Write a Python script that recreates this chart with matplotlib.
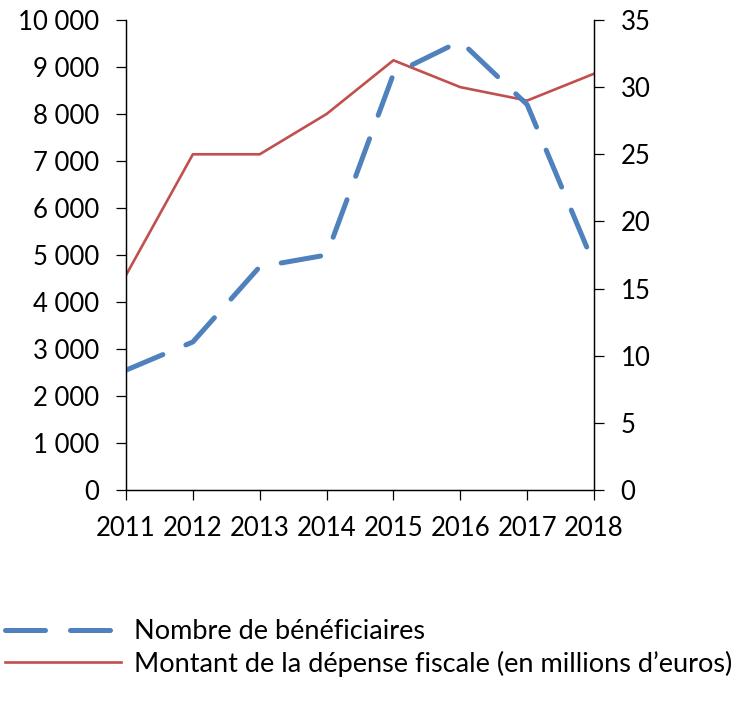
import numpy as np
import matplotlib as mpl
from matplotlib import pyplot as plt
from matplotlib.ticker import FuncFormatter

plt.rcParams['font.family'] = ['Lato', 'DejaVu Sans']
plt.rcParams.update({'font.size': 18.5})

# données
annees = ['2011', '2012', '2013', '2014', '2015', '2016', '2017', '2018']
beneficiaires = [2550, 3150, 4750, 5000, 8850, 9550, 8200, 4800]
depense = [16, 25, 25, 28, 32, 30, 29, 31]

bleu = '#4F81BD'
rouge = '#C0504D'

fig = plt.figure(figsize=(7.51, 7.01), dpi=100)
ax = fig.add_axes([126/751, 1-490/701, (594-126)/751, (490-20)/701])
ax2 = ax.twinx()

x = np.arange(len(annees))
l1, = ax.plot(x, beneficiaires, color=bleu, lw=3.6, solid_capstyle='round',
              dash_capstyle='round', label='Nombre de bénéficiaires')
l1.set_dashes((8, 5))
l2, = ax2.plot(x, depense, color=rouge, lw=1.9, label='Montant de la dépense fiscale (en millions d\u2019euros)')

ax.set_xlim(0, len(annees)-1)
ax.set_ylim(0, 10000)
ax.set_yticks(np.arange(0, 10001, 1000))
ax.yaxis.set_major_formatter(FuncFormatter(lambda v, p: f'{int(v):,}'.replace(',', ' ')))
ax2.set_ylim(0, 35)
ax2.set_yticks(np.arange(0, 36, 5))
ax.set_xticks(x)
ax.set_xticklabels(annees)

for a in (ax, ax2):
    a.spines['top'].set_visible(False)
    for s in a.spines.values():
        s.set_linewidth(0.9)
ax.tick_params(axis='y', direction='out', length=7, width=0.9, pad=12)
ax.tick_params(axis='x', direction='out', length=7, width=0.9, pad=12)
ax2.tick_params(axis='y', direction='out', length=7, width=0.9, pad=12)
ax2.set_zorder(ax.get_zorder() - 1)
ax.patch.set_visible(False)

fig.legend(handles=[l1, l2], loc='upper left', bbox_to_anchor=(5/751, 1-619/701),
           frameon=False, borderpad=0, borderaxespad=0, handlelength=4.3,
           handletextpad=0.45, labelspacing=0.25, fontsize=19.5)

plt.savefig('out.png', dpi=100)
